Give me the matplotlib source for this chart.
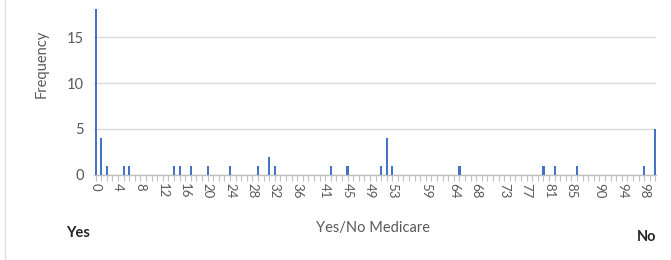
import matplotlib.pyplot as plt
from matplotlib.lines import Line2D

# values on the x axis and how often each one occurs
values = [0, 1, 2, 5, 6, 14, 15, 17, 20, 24, 29, 31, 32, 42, 45,
          51, 52, 53, 65, 80, 82, 86, 98, 100]
counts = [18, 4, 1, 1, 1, 1, 1, 1, 1, 1, 1, 2, 1, 1, 1,
          1, 4, 1, 1, 1, 1, 1, 1, 5]

# labelled categories on the x axis
label_values = [0, 4, 8, 12, 16, 20, 24, 28, 32, 36, 41, 45, 49, 53,
                59, 64, 68, 73, 77, 81, 85, 90, 94, 98]
y_ticks = [0, 5, 10, 15]

grey = '#595959'

fig = plt.figure(figsize=(6.71, 2.60), dpi=100)
ax = fig.add_axes([0.140, 0.327, 0.838, 0.642])

ax.bar(values, counts, width=0.38, color='#4472C4', zorder=3)

ax.set_xlim(-0.3, 100.15)
ax.set_ylim(0, 18.15)

ax.set_yticks(y_ticks)
ax.set_yticklabels([str(v) for v in y_ticks], family='Lato', fontsize=10.5, color=grey)
ax.yaxis.grid(True, color='#D9D9D9', linewidth=1.0, zorder=0)
ax.tick_params(axis='y', length=0, pad=7)

ticks = list(range(101))
ax.set_xticks(ticks)
ax.set_xticklabels([str(t) if t in label_values else '' for t in ticks],
                   rotation=270, family='Lato', fontsize=9.5, color=grey)
ax.tick_params(axis='x', length=4, width=0.8, color='#BFBFBF', pad=2)

for side in ['top', 'right', 'left']:
    ax.spines[side].set_visible(False)
ax.spines['bottom'].set_color('#BFBFBF')
ax.spines['bottom'].set_linewidth(1.0)

ax.set_ylabel('Frequency', family='Lato', fontsize=10.5, color=grey)
ax.yaxis.set_label_coords(-0.080, 0.665)

fig.text(0.556, 0.123, 'Yes/No Medicare', family='Lato', fontsize=10.5,
         color=grey, ha='center', va='center')
fig.text(0.117, 0.105, 'Yes', family='Lato', fontsize=10.5, fontweight='bold',
         color='#262626', ha='center', va='center')
fig.text(0.963, 0.088, 'No', family='Lato', fontsize=10.5, fontweight='bold',
         color='#262626', ha='center', va='center')

# faint frame line at the far left
fig.add_artist(Line2D([0.008, 0.008], [0, 1], transform=fig.transFigure,
                      color='#E0E0E0', linewidth=1.0))

fig.savefig('out.png', dpi=100)
